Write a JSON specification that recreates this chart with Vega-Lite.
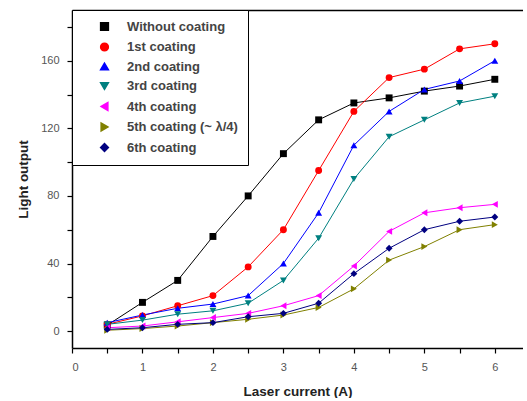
{
  "$schema": "https://vega.github.io/schema/vega-lite/v6.json",
  "width": 451,
  "height": 338,
  "padding": {"left": 16, "top": 9, "right": 0, "bottom": 0},
  "background": "white",
  "config": {
    "font": "Liberation Sans",
    "view": {"stroke": null},
    "axis": {"domainColor": "black", "tickColor": "black", "labelColor": "#555", "titleColor": "#222", "grid": false, "domainWidth": 1.5, "tickWidth": 1.2}
  },
  "data": {"values": [
    {"s": "Without coating", "x": 0.5, "y": 3.5}, {"s": "Without coating", "x": 1, "y": 17}, {"s": "Without coating", "x": 1.5, "y": 30}, {"s": "Without coating", "x": 2, "y": 56}, {"s": "Without coating", "x": 2.5, "y": 80}, {"s": "Without coating", "x": 3, "y": 105}, {"s": "Without coating", "x": 3.5, "y": 125}, {"s": "Without coating", "x": 4, "y": 135}, {"s": "Without coating", "x": 4.5, "y": 138}, {"s": "Without coating", "x": 5, "y": 142}, {"s": "Without coating", "x": 5.5, "y": 145}, {"s": "Without coating", "x": 6, "y": 149},
    {"s": "1st coating", "x": 0.5, "y": 4}, {"s": "1st coating", "x": 1, "y": 9}, {"s": "1st coating", "x": 1.5, "y": 15}, {"s": "1st coating", "x": 2, "y": 21}, {"s": "1st coating", "x": 2.5, "y": 38}, {"s": "1st coating", "x": 3, "y": 60}, {"s": "1st coating", "x": 3.5, "y": 95}, {"s": "1st coating", "x": 4, "y": 130}, {"s": "1st coating", "x": 4.5, "y": 150}, {"s": "1st coating", "x": 5, "y": 155}, {"s": "1st coating", "x": 5.5, "y": 167}, {"s": "1st coating", "x": 6, "y": 170},
    {"s": "2nd coating", "x": 0.5, "y": 5}, {"s": "2nd coating", "x": 1, "y": 9.5}, {"s": "2nd coating", "x": 1.5, "y": 13.5}, {"s": "2nd coating", "x": 2, "y": 16}, {"s": "2nd coating", "x": 2.5, "y": 21}, {"s": "2nd coating", "x": 3, "y": 40}, {"s": "2nd coating", "x": 3.5, "y": 70}, {"s": "2nd coating", "x": 4, "y": 110}, {"s": "2nd coating", "x": 4.5, "y": 130}, {"s": "2nd coating", "x": 5, "y": 143}, {"s": "2nd coating", "x": 5.5, "y": 148}, {"s": "2nd coating", "x": 6, "y": 160},
    {"s": "3rd coating", "x": 0.5, "y": 4}, {"s": "3rd coating", "x": 1, "y": 6.5}, {"s": "3rd coating", "x": 1.5, "y": 10}, {"s": "3rd coating", "x": 2, "y": 12}, {"s": "3rd coating", "x": 2.5, "y": 16.5}, {"s": "3rd coating", "x": 3, "y": 30}, {"s": "3rd coating", "x": 3.5, "y": 55}, {"s": "3rd coating", "x": 4, "y": 90}, {"s": "3rd coating", "x": 4.5, "y": 115}, {"s": "3rd coating", "x": 5, "y": 125}, {"s": "3rd coating", "x": 5.5, "y": 135}, {"s": "3rd coating", "x": 6, "y": 139},
    {"s": "4th coating", "x": 0.5, "y": 2}, {"s": "4th coating", "x": 1, "y": 3}, {"s": "4th coating", "x": 1.5, "y": 5.5}, {"s": "4th coating", "x": 2, "y": 8}, {"s": "4th coating", "x": 2.5, "y": 10.5}, {"s": "4th coating", "x": 3, "y": 15}, {"s": "4th coating", "x": 3.5, "y": 21}, {"s": "4th coating", "x": 4, "y": 38.5}, {"s": "4th coating", "x": 4.5, "y": 59}, {"s": "4th coating", "x": 5, "y": 70}, {"s": "4th coating", "x": 5.5, "y": 73}, {"s": "4th coating", "x": 6, "y": 75},
    {"s": "5th coating (~ λ/4)", "x": 0.5, "y": 0.5}, {"s": "5th coating (~ λ/4)", "x": 1, "y": 1.5}, {"s": "5th coating (~ λ/4)", "x": 1.5, "y": 3}, {"s": "5th coating (~ λ/4)", "x": 2, "y": 5}, {"s": "5th coating (~ λ/4)", "x": 2.5, "y": 7}, {"s": "5th coating (~ λ/4)", "x": 3, "y": 9.5}, {"s": "5th coating (~ λ/4)", "x": 3.5, "y": 14}, {"s": "5th coating (~ λ/4)", "x": 4, "y": 25}, {"s": "5th coating (~ λ/4)", "x": 4.5, "y": 42}, {"s": "5th coating (~ λ/4)", "x": 5, "y": 50}, {"s": "5th coating (~ λ/4)", "x": 5.5, "y": 60}, {"s": "5th coating (~ λ/4)", "x": 6, "y": 63},
    {"s": "6th coating", "x": 0.5, "y": 1}, {"s": "6th coating", "x": 1, "y": 2}, {"s": "6th coating", "x": 1.5, "y": 4}, {"s": "6th coating", "x": 2, "y": 5}, {"s": "6th coating", "x": 2.5, "y": 8.5}, {"s": "6th coating", "x": 3, "y": 10.5}, {"s": "6th coating", "x": 3.5, "y": 16.5}, {"s": "6th coating", "x": 4, "y": 34}, {"s": "6th coating", "x": 4.5, "y": 49}, {"s": "6th coating", "x": 5, "y": 60}, {"s": "6th coating", "x": 5.5, "y": 65}, {"s": "6th coating", "x": 6, "y": 67.5}
  ]},
  "encoding": {
    "y": {"field": "y", "type": "quantitative", "scale": {"domain": [-10, 190], "nice": false, "zero": false},
      "axis": {"title": "Light output", "values": [0, 20, 40, 60, 80, 100, 120, 140, 160, 180], "labelExpr": "datum.value % 40 === 0 ? datum.label : ''", "labelFontSize": 11, "tickSize": 5, "titleFontSize": 13.5, "titleFontWeight": "bold", "titlePadding": 10, "labelPadding": 8}},
    "color": {"field": "s", "type": "nominal", "scale": {"domain": ["Without coating", "1st coating", "2nd coating", "3rd coating", "4th coating", "5th coating (~ λ/4)", "6th coating"], "range": ["#000000", "#ff0000", "#0000ff", "#008080", "#ff00ff", "#808000", "#000080"]},
      "legend": {"title": null, "orient": "top-left", "offset": 0, "strokeColor": "black", "fillColor": "white", "padding": 10, "labelFontSize": 13, "labelColor": "#444", "labelFontWeight": "bold", "rowPadding": 5.5, "symbolSize": 60, "symbolOffset": 16, "labelOffset": 16, "symbolStrokeWidth": 1.5}}
  },
  "layer": [
    {"mark": {"type": "line", "strokeWidth": 1},
      "encoding": {"x": {"field": "x", "type": "quantitative", "scale": {"domain": [0, 6.4], "nice": false, "zero": false},
        "axis": {"title": "Laser current (A)", "values": [0, 0.5, 1, 1.5, 2, 2.5, 3, 3.5, 4, 4.5, 5, 5.5, 6], "labelExpr": "datum.value % 1 === 0 ? format(datum.value, 'd') : ''", "labelFontSize": 11, "tickSize": 5, "titleFontSize": 13.5, "titleFontWeight": "bold", "titlePadding": 12, "labelPadding": 8}}}},
    {"mark": {"type": "point", "filled": true, "size": 48, "opacity": 1},
      "encoding": {
        "x": {"field": "x", "type": "quantitative", "scale": {"domain": [0, 6.4], "nice": false, "zero": false},
          "axis": {"orient": "top", "title": null, "labels": false, "ticks": false, "domain": true}},
        "shape": {"field": "s", "type": "nominal", "scale": {"domain": ["Without coating", "1st coating", "2nd coating", "3rd coating", "4th coating", "5th coating (~ λ/4)", "6th coating"], "range": ["square", "circle", "triangle-up", "triangle-down", "triangle-left", "triangle-right", "diamond"]}, "legend": {"title": null}}}}
  ],
  "resolve": {"axis": {"x": "independent"}}
}
